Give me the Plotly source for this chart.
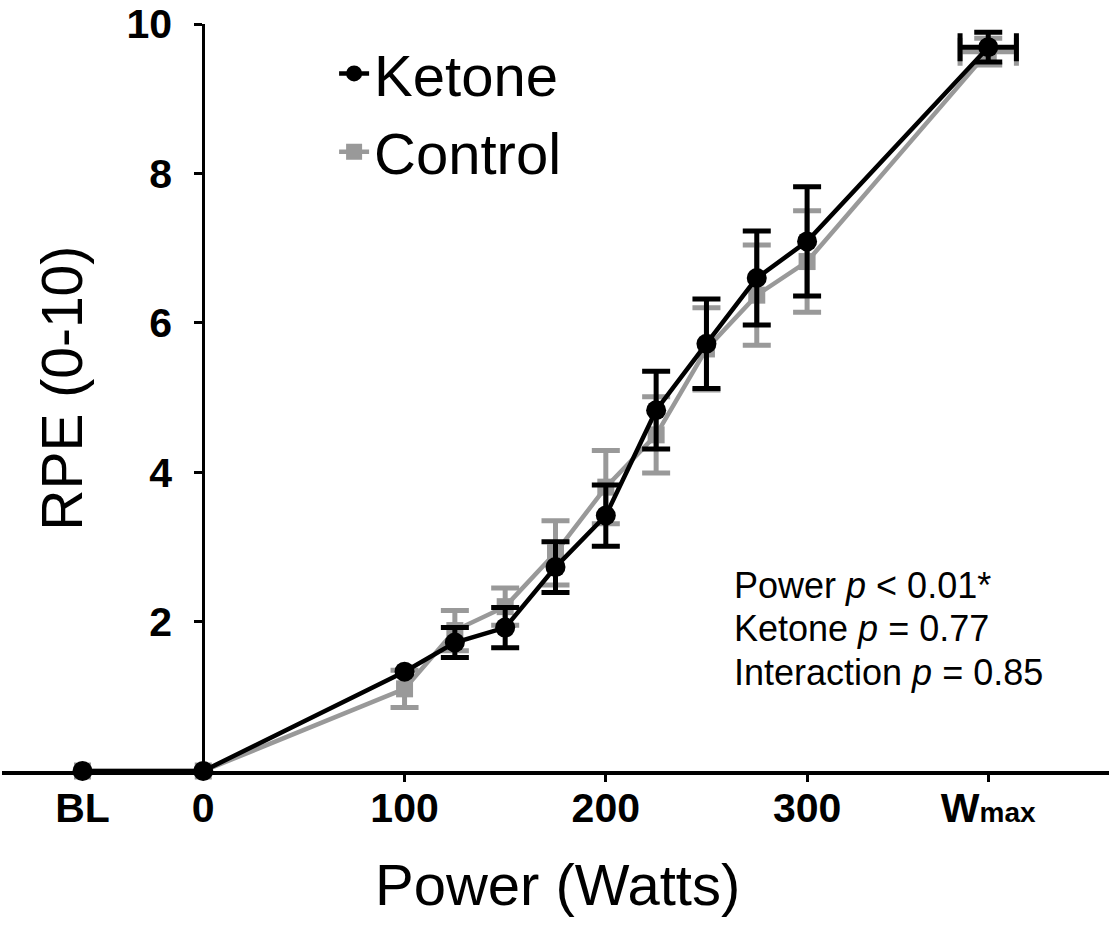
import plotly.graph_objects as go

# ---- data ----
x_pos = [-60, 0, 100, 125, 150, 175, 200, 225, 250, 275, 300, 390]
ketone_y = [0, 0, 1.33, 1.72, 1.92, 2.73, 3.42, 4.83, 5.72, 6.60, 7.09, 9.69]
ketone_err = [None, None, None, 0.20, 0.27, 0.34, 0.41, 0.52, 0.60, 0.63, 0.73, 0.20]
control_y = [0, 0, 1.10, 1.88, 2.20, 2.92, 3.80, 4.50, 5.65, 6.37, 6.82, 9.63]
control_err = [None, None, 0.25, 0.27, 0.25, 0.43, 0.49, 0.51, 0.55, 0.67, 0.68, 0.18]
wmax_xerr_ketone = 14
wmax_xerr_control = 14

tick_vals = [-60, 0, 100, 200, 300, 390]
tick_text = ["BL", "0", "100", "200", "300", "W<span style='font-size:28px'>max</span>"]
tick_marks = [100, 200, 300, 390]
y_ticks = [2, 4, 6, 8, 10]

stats_lines = ["Power <i>p</i> < 0.01*", "Ketone <i>p</i> = 0.77", "Interaction <i>p</i> = 0.85"]

GRAY = "#999999"
FONT = "Arial, Liberation Sans, sans-serif"


def err_subset(xs, ys, errs):
    keep = [i for i, e in enumerate(errs) if e is not None]
    return [xs[i] for i in keep], [ys[i] for i in keep], [errs[i] for i in keep]


fig = go.Figure()


def add_series(name, ys, errs, xerr, color, symbol, size, rank):
    ex, ey, ee = err_subset(x_pos, ys, errs)
    # vertical error bars
    fig.add_trace(go.Scatter(
        x=ex, y=ey, mode="markers", marker=dict(size=1, opacity=0, color=color),
        error_y=dict(type="data", array=ee, color=color, thickness=5, width=14),
        showlegend=False, hoverinfo="skip", cliponaxis=False,
    ))
    # horizontal error bar at Wmax
    fig.add_trace(go.Scatter(
        x=[x_pos[-1]], y=[ys[-1]], mode="markers", marker=dict(size=1, opacity=0, color=color),
        error_x=dict(type="data", array=[xerr], color=color, thickness=5, width=14),
        showlegend=False, hoverinfo="skip", cliponaxis=False,
    ))
    fig.add_trace(go.Scatter(
        x=x_pos, y=ys, name=name, mode="lines+markers",
        line=dict(color=color, width=4.5),
        marker=dict(symbol=symbol, size=size, color=color),
        cliponaxis=False, legendrank=rank,
    ))


add_series("Control", control_y, control_err, wmax_xerr_control, GRAY, "square", 17, 2)
add_series("Ketone", ketone_y, ketone_err, wmax_xerr_ketone, "black", "circle", 20, 1)

# invisible trace to host the tick-mark axis
fig.add_trace(go.Scatter(x=[], y=[], xaxis="x2", showlegend=False, hoverinfo="skip"))

fig.update_layout(
    width=1110, height=945,
    margin=dict(l=2, r=1, t=21, b=174),
    paper_bgcolor="white", plot_bgcolor="white",
    font=dict(family=FONT, color="black"),
    xaxis=dict(
        range=[-100, 450], tickmode="array", tickvals=tick_vals, ticktext=tick_text,
        ticks="", showgrid=False, zeroline=False, showline=True, linecolor="black", linewidth=4,
        tickfont=dict(family=FONT, size=41, color="black", weight="bold"),
        ticklabelstandoff=-2, ticklabeloverflow="allow",
    ),
    xaxis2=dict(
        range=[-100, 450], overlaying="x", anchor="y", side="bottom", matches="x",
        tickmode="array", tickvals=tick_marks, ticks="outside", ticklen=10, tickwidth=3,
        tickcolor="black", showticklabels=False, showgrid=False, zeroline=False, showline=False,
    ),
    yaxis=dict(
        range=[0, 10], tickmode="array", tickvals=y_ticks, anchor="free", position=100 / 550,
        ticks="outside", ticklen=8, tickwidth=3, tickcolor="black",
        showgrid=False, zeroline=False, showline=True, linecolor="black", linewidth=3,
        tickfont=dict(family=FONT, size=41, color="black", weight="bold"),
        ticklabelstandoff=14, ticklabeloverflow="allow",
    ),
    legend=dict(
        x=0.30, y=0.993, xanchor="left", yanchor="top",
        font=dict(family=FONT, size=58, color="black"),
        bgcolor="rgba(0,0,0,0)", tracegroupgap=0,
    ),
    showlegend=True,
    hovermode=False,
)

annotations = [
    dict(text="Power (Watts)", xref="paper", yref="paper", x=0.5014, y=-0.152,
         xanchor="center", yanchor="middle", showarrow=False,
         font=dict(family=FONT, size=58, color="black")),
    dict(text="RPE (0-10)", xref="paper", yref="paper", x=0.0542, y=0.513,
         xanchor="center", yanchor="middle", showarrow=False, textangle=-90,
         font=dict(family=FONT, size=57, color="black")),
]
for line, yp in zip(stats_lines, [0.248, 0.1907, 0.132]):
    annotations.append(dict(text=line, xref="paper", yref="paper", x=0.6594, y=yp,
                            xanchor="left", yanchor="middle", showarrow=False,
                            font=dict(family=FONT, size=36, color="black")))
fig.update_layout(annotations=annotations)

fig.write_html("out.html", config={"displayModeBar": False},
               post_script="document.body.style.margin='0';")
